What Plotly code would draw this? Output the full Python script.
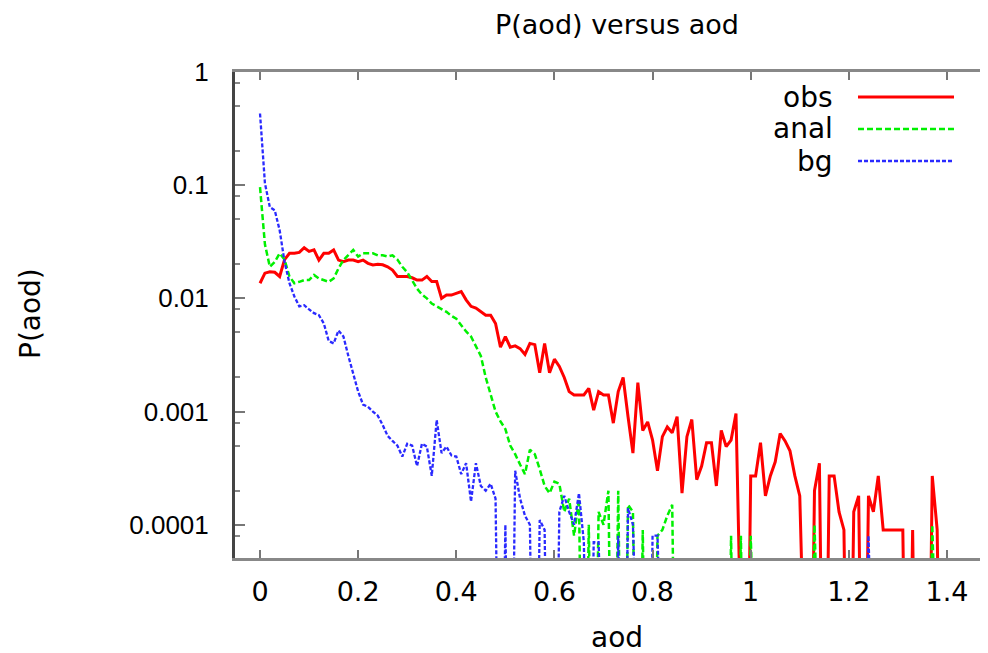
import plotly.graph_objects as go

aod = [0.00, 0.01, 0.02, 0.03, 0.04, 0.05, 0.06, 0.07, 0.08, 0.09,
       0.10, 0.11, 0.12, 0.13, 0.14, 0.15, 0.16, 0.17, 0.18, 0.19,
       0.20, 0.21, 0.22, 0.23, 0.24, 0.25, 0.26, 0.27, 0.28, 0.29,
       0.30, 0.31, 0.32, 0.33, 0.34, 0.35, 0.36, 0.37, 0.38, 0.39,
       0.40, 0.41, 0.42, 0.43, 0.44, 0.45, 0.46, 0.47, 0.48, 0.49,
       0.50, 0.51, 0.52, 0.53, 0.54, 0.55, 0.56, 0.57, 0.58, 0.59,
       0.60, 0.61, 0.62, 0.63, 0.64, 0.65, 0.66, 0.67, 0.68, 0.69,
       0.70, 0.71, 0.72, 0.73, 0.74, 0.75, 0.76, 0.77, 0.78, 0.79,
       0.80, 0.81, 0.82, 0.83, 0.84, 0.85, 0.86, 0.87, 0.88, 0.89,
       0.90, 0.91, 0.92, 0.93, 0.94, 0.95, 0.96, 0.97, 0.98, 0.99,
       1.00, 1.01, 1.02, 1.03, 1.04, 1.05, 1.06, 1.07, 1.08, 1.09,
       1.10, 1.11, 1.12, 1.13, 1.14, 1.15, 1.16, 1.17, 1.18, 1.19,
       1.20, 1.21, 1.22, 1.23, 1.24, 1.25, 1.26, 1.27, 1.28, 1.29,
       1.30, 1.31, 1.32, 1.33, 1.34, 1.35, 1.36, 1.37, 1.38, 1.39]

obs = [0.0136, 0.0167, 0.0172, 0.0170, 0.0156, 0.0220, 0.0250, 0.0250, 0.0255, 0.0280,
       0.0260, 0.0268, 0.0218, 0.0250, 0.0250, 0.0268, 0.0218, 0.0211, 0.0218, 0.0218,
       0.0211, 0.0218, 0.0204, 0.0197, 0.0200, 0.0198, 0.0190, 0.0178, 0.0156, 0.0156,
       0.0156, 0.0152, 0.0145, 0.0145, 0.0156, 0.0141, 0.0141, 0.0100, 0.0107, 0.0107,
       0.0111, 0.0115, 0.0097, 0.0085, 0.0082, 0.0076, 0.0071, 0.0071, 0.0060, 0.0037,
       0.0046, 0.0037, 0.0038, 0.0036, 0.0032, 0.0040, 0.0039, 0.0022, 0.0040, 0.0022,
       0.0029, 0.0025, 0.0020, 0.0015, 0.0014, 0.0014, 0.0014, 0.0016, 0.00103, 0.0015,
       0.0014, 0.0014, 0.00079, 0.0015, 0.0020, 0.0009, 0.00043, 0.0018, 0.00068, 0.00081,
       0.00056, 0.00030, 0.0006, 0.00073, 0.00065, 0.00090, 0.00019, 0.0006, 0.00085, 0.00025,
       0.00033, 0.00053, 0.00053, 0.00022, 0.00068, 0.00049, 0.00056, 0.00096, 1e-7, 1e-7,
       0.00027, 0.00027, 0.00053, 0.00018, 0.00027, 0.00036, 0.00064, 0.00055, 0.00045, 0.00027,
       0.00018, 1e-7, 1e-7, 0.00020, 0.00035, 1e-7, 0.00027, 0.00027, 0.00013, 0.00009,
       1e-7, 0.00013, 0.00018, 1e-7, 0.00018, 0.00013, 0.00027, 0.00009, 0.00009, 0.00009,
       0.00009, 0.00009, 1e-7, 0.00009, 1e-7, 1e-7, 1e-7, 0.00027, 0.00009, 1e-7]

anal = [0.096, 0.030, 0.019, 0.021, 0.025, 0.022, 0.0156, 0.0136, 0.0140, 0.0145,
        0.0145, 0.0161, 0.0150, 0.0145, 0.0140, 0.0150, 0.0184, 0.0218, 0.0240, 0.0268,
        0.0234, 0.0250, 0.0250, 0.0250, 0.0240, 0.0240, 0.0234, 0.0240, 0.0220, 0.0190,
        0.0170, 0.0145, 0.0122, 0.0108, 0.0100, 0.0090, 0.0085, 0.0080, 0.0076, 0.0070,
        0.0066, 0.0058, 0.0051, 0.0046, 0.0038, 0.0031, 0.0020, 0.0014, 0.0010, 0.00082,
        0.00070, 0.00050, 0.00042, 0.00034, 0.00028, 0.00046, 0.00042, 0.00031, 0.00022, 0.00019,
        0.00024, 0.00023, 0.00013, 0.00017, 0.00008, 0.00017, 1e-7, 0.00010, 1e-7, 0.00013,
        0.00010, 0.00020, 1e-7, 0.00020, 1e-7, 0.00015, 0.00013, 1e-7, 0.00009, 1e-7,
        1e-7, 0.00008, 0.00009, 0.00012, 0.00015, 1e-7, 1e-7, 1e-7, 1e-7, 1e-7,
        1e-7, 1e-7, 1e-7, 1e-7, 1e-7, 1e-7, 0.00008, 1e-7, 0.00008, 1e-7,
        0.00008, 1e-7, 1e-7, 1e-7, 1e-7, 1e-7, 1e-7, 1e-7, 1e-7, 1e-7,
        1e-7, 1e-7, 1e-7, 0.00010, 1e-7, 1e-7, 1e-7, 1e-7, 1e-7, 1e-7,
        1e-7, 1e-7, 1e-7, 1e-7, 1e-7, 1e-7, 1e-7, 1e-7, 1e-7, 1e-7,
        1e-7, 1e-7, 1e-7, 1e-7, 1e-7, 1e-7, 1e-7, 0.00010, 1e-7, 1e-7]

bg = [0.43, 0.104, 0.064, 0.060, 0.040, 0.021, 0.0136, 0.0104, 0.0085, 0.0087,
      0.0080, 0.0074, 0.0071, 0.0060, 0.0042, 0.0040, 0.0052, 0.0046, 0.0031, 0.0021,
      0.0015, 0.00115, 0.0011, 0.0010, 0.00092, 0.00076, 0.00061, 0.00055, 0.00050, 0.00040,
      0.00052, 0.00050, 0.00033, 0.00052, 0.00049, 0.00027, 0.00084, 0.00043, 0.00049, 0.00041,
      0.00040, 0.00028, 0.00035, 0.00016, 0.00035, 0.00022, 0.00020, 0.00023, 0.00017, 1e-7,
      0.00010, 1e-7, 0.00030, 0.00017, 0.00012, 0.00010, 1e-7, 0.00011, 0.00009, 1e-7,
      1e-7, 0.00013, 0.00018, 0.00013, 0.00010, 0.00019, 0.00007, 1e-7, 0.00007, 0.00007,
      1e-7, 1e-7, 1e-7, 0.00008, 1e-7, 0.00014, 0.00010, 1e-7, 1e-7, 1e-7,
      0.00008, 0.00008, 1e-7, 1e-7, 1e-7, 1e-7, 1e-7, 1e-7, 1e-7, 1e-7,
      1e-7, 1e-7, 1e-7, 1e-7, 1e-7, 1e-7, 1e-7, 1e-7, 1e-7, 1e-7,
      1e-7, 1e-7, 1e-7, 1e-7, 1e-7, 1e-7, 1e-7, 1e-7, 1e-7, 1e-7,
      1e-7, 1e-7, 1e-7, 1e-7, 1e-7, 1e-7, 1e-7, 1e-7, 1e-7, 1e-7,
      1e-7, 1e-7, 1e-7, 1e-7, 0.00008, 1e-7, 1e-7, 1e-7, 1e-7, 1e-7,
      1e-7, 1e-7, 1e-7, 1e-7, 1e-7, 1e-7, 1e-7, 1e-7, 1e-7, 1e-7]

series_names = ["obs", "anal", "bg"]
x_tickvals = [0, 0.2, 0.4, 0.6, 0.8, 1.0, 1.2, 1.4]
x_ticktext = ["0", "0.2", "0.4", "0.6", "0.8", "1", "1.2", "1.4"]
y_tickvals = [1e-4, 1e-3, 1e-2, 1e-1, 1]
y_ticktext = ["0.0001", "0.001", "0.01", "0.1", "1"]
y_minor = [2e-5, 5e-5, 8e-5, 2e-4, 5e-4, 8e-4, 2e-3, 5e-3, 8e-3,
           2e-2, 5e-2, 8e-2, 0.2, 0.5, 0.8]

FONT = "Liberation Sans, Arial, sans-serif"
WIDE = "DejaVu Sans, Verdana, sans-serif"
styles = [dict(color="#ff0000", width=3, dash="solid"),
          dict(color="#00f000", width=2.5, dash="6px,3px"),
          dict(color="#2a2aff", width=2.3, dash="4px,2px")]

fig = go.Figure()
for name, ys, st in zip(series_names, [obs, anal, bg], styles):
    fig.add_trace(go.Scatter(x=aod, y=ys, mode="lines", name=name,
                             line=st, showlegend=False))

# page coordinates of the plot area (the page body has an 8px margin)
OFF = 8
L, R, T, B = 235, 988, 72, 558
W, H = 988 - OFF, 653 - OFF


def px(x):
    return (x - L) / (R - L)


def py(y):
    return (B - y) / (B - T)


annotations = [
    dict(text="P(aod) versus aod", x=px(617), y=py(24), xref="paper", yref="paper",
         showarrow=False, font=dict(size=27, color="black", family=WIDE),
         xanchor="center", yanchor="middle"),
    dict(text="aod", x=px(617), y=py(637), xref="paper", yref="paper",
         showarrow=False, font=dict(size=28, color="black", family=WIDE),
         xanchor="center", yanchor="middle"),
    dict(text="P(aod)", x=px(30), y=py(314), xref="paper", yref="paper",
         showarrow=False, textangle=-90, font=dict(size=28, color="black", family=WIDE),
         xanchor="center", yanchor="middle"),
]
shapes = []
legend_y = [97, 129, 161]
for name, st, ly in zip(series_names, styles, legend_y):
    annotations.append(dict(text=name, x=px(835), y=py(ly), xref="paper", yref="paper",
                            showarrow=False, xanchor="right", yanchor="middle",
                            font=dict(size=28, color="black", family=WIDE)))
    shapes.append(dict(type="line", xref="paper", yref="paper",
                       x0=px(858), x1=px(954), y0=py(ly), y1=py(ly),
                       line=dict(color=st["color"], width=st["width"], dash=st["dash"])))

fig.update_layout(
    width=W, height=H,
    margin=dict(l=L - OFF, r=(988 - OFF) - (R - OFF), t=T - OFF, b=(653 - OFF) - (B - OFF), pad=0),
    paper_bgcolor="white", plot_bgcolor="white",
    font=dict(family=FONT, size=26, color="black"),
    annotations=annotations, shapes=shapes, showlegend=False,
)
fig.update_xaxes(range=[-0.051, 1.4836], tickvals=x_tickvals, ticktext=x_ticktext,
                 ticks="inside", ticklen=8, tickwidth=2, tickcolor="#777777",
                 showline=True, linecolor="#888888", linewidth=3, mirror="ticks",
                 showgrid=False, zeroline=False, ticklabelstandoff=8,
                 tickfont=dict(size=27, family=WIDE, color="black"))
fig.update_yaxes(type="log", range=[-4.294, 0.0], tickvals=y_tickvals, ticktext=y_ticktext,
                 ticks="inside", ticklen=10, tickwidth=2, tickcolor="#777777",
                 showline=True, linecolor="#444444", linewidth=3, mirror=False,
                 showgrid=False, zeroline=False, ticklabelstandoff=18,
                 minor=dict(tickvals=y_minor, ticks="inside", ticklen=5, tickwidth=2,
                            tickcolor="#888888", showgrid=False),
                 tickfont=dict(size=26, family=FONT, color="black"))

fig.write_html("out.html")
